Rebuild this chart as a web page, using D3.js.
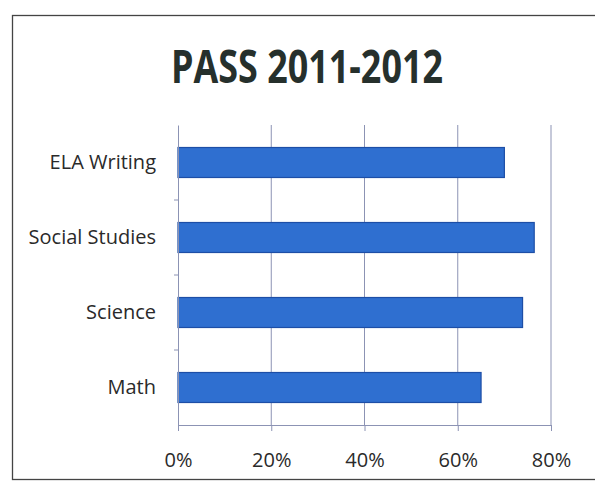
<!DOCTYPE html>
<html>
    <head>
        <script src="https://d3js.org/d3.v7.min.js"></script>
        <style>
            body { margin: 0; background: #fff; }
        </style>
    </head>
    <body>
        <div id="chart"></div>
        <script>
            // data
            const subjects = ["ELA Writing", "Social Studies", "Science", "Math"]
            const passRates = [0.70, 0.764, 0.739, 0.65]
            const xTicks = [0, 0.2, 0.4, 0.6, 0.8]
            const title = "PASS 2011-2012"

            const width = 595
            const height = 491
            const margin = {top: 125, right: 44, bottom: 66, left: 178}

            const svg = d3.select("#chart")
                .append("svg")
                .attr("width", width)
                .attr("height", height)

            // frame of the chart box
            svg.append("rect")
                .attr("x", 12.5)
                .attr("y", 15.5)
                .attr("width", 600)
                .attr("height", 464)
                .attr("fill", "none")
                .attr("stroke", "#444")
                .attr("stroke-width", 1.3)

            svg.append("text")
                .attr("x", 171)
                .attr("y", 83)
                .attr("textLength", 272)
                .attr("lengthAdjust", "spacingAndGlyphs")
                .attr("font-family", "Open Sans")
                .attr("font-weight", "bold")
                .attr("font-size", 46)
                .attr("fill", "#26302c")
                .text(title)

            x = d3.scaleLinear([0, 0.8], [margin.left, width - margin.right])
            y = d3.scaleBand(subjects, [margin.top, height - margin.bottom]).paddingInner(0.6).paddingOuter(0.3)

            // vertical gridlines
            svg.append("g")
                .selectAll("line")
                .data(xTicks.slice(1))
                .join("line")
                .attr("x1", d => x(d))
                .attr("x2", d => x(d))
                .attr("y1", margin.top)
                .attr("y2", height - margin.bottom)
                .attr("stroke", "#8c93b4")
                .attr("stroke-width", 1)

            svg.append("g")
                .selectAll("rect")
                .data(subjects)
                .join("rect")
                .attr("x", x(0))
                .attr("y", d => y(d))
                .attr("width", (d, i) => x(passRates[i]) - x(0))
                .attr("height", y.bandwidth())
                .attr("fill", "#2f6fd0")
                .attr("stroke", "#1d4ea6")
                .attr("stroke-width", 1.2)

            // x axis
            const xAxis = svg.append("g")
                .attr("transform", `translate(0,${height - margin.bottom})`)
                .call(d3.axisBottom(x).tickValues(xTicks).tickFormat(d3.format(".0%")).tickSize(6).tickPadding(22))
            xAxis.select(".domain").attr("stroke", "#8c93b4")
            xAxis.selectAll(".tick line").attr("stroke", "#8c93b4")
            xAxis.selectAll("text")
                .attr("font-family", "Open Sans")
                .attr("font-size", 20)
                .attr("fill", "#2a2a2a")

            // y axis, ticks sit between the bands
            const yAxis = svg.append("g")
                .attr("transform", `translate(${margin.left},0)`)
                .call(d3.axisLeft(y).tickSize(0).tickPadding(22))
            yAxis.select(".domain").attr("stroke", "#8c93b4")
            yAxis.selectAll("text")
                .attr("font-family", "Open Sans")
                .attr("font-size", 20)
                .attr("fill", "#2a2a2a")

            const step = y.step()
            svg.append("g")
                .selectAll("line")
                .data(subjects.slice(1))
                .join("line")
                .attr("x1", margin.left - 4)
                .attr("x2", margin.left)
                .attr("y1", d => y(d) - step * 0.3)
                .attr("y2", d => y(d) - step * 0.3)
                .attr("stroke", "#8c93b4")
        </script>
    </body>
</html>
